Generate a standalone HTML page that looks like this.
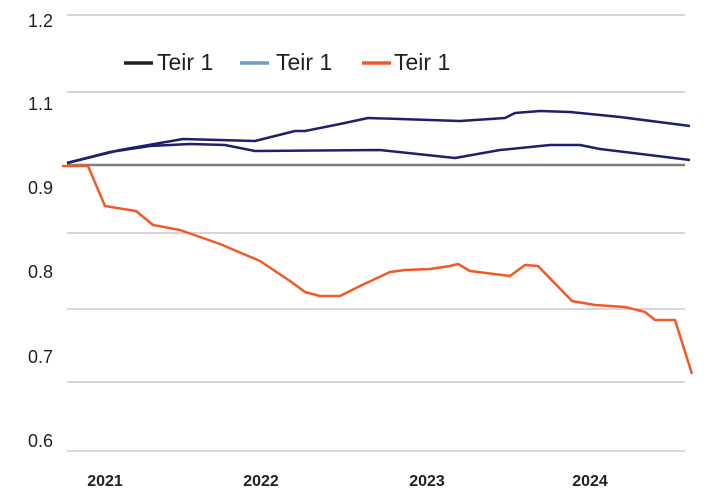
<!DOCTYPE html>
<html><head><style>body{margin:0;background:#fff}svg{display:block}</style></head><body>
<svg width="722" height="492" viewBox="0 0 722 492" font-family="Liberation Sans, sans-serif">
<g stroke="#bdbdbd" stroke-width="1.2">
<line x1="67" y1="15" x2="685" y2="15"/><line x1="67" y1="92" x2="685" y2="92"/>
<line x1="67" y1="233" x2="685" y2="233"/><line x1="67" y1="309" x2="685" y2="309"/>
<line x1="67" y1="382" x2="685" y2="382"/><line x1="67" y1="451" x2="685" y2="451"/>
</g>
<line x1="67" y1="165" x2="685" y2="165" stroke="#7f7f7f" stroke-width="2.5"/>
<g fill="#231f20" font-size="18" text-anchor="end">
<text x="53" y="27">1.2</text><text x="53" y="110">1.1</text><text x="53" y="194">0.9</text>
<text x="53" y="278">0.8</text><text x="53" y="363">0.7</text><text x="53" y="447">0.6</text>
</g>
<g fill="#231f20" font-size="16" font-weight="bold" text-anchor="middle">
<text x="105" y="486">2021</text><text x="261" y="486">2022</text><text x="427" y="486">2023</text><text x="590" y="486">2024</text>
</g>
<g font-size="23" fill="#231f20">
<line x1="124" y1="63" x2="153" y2="63" stroke="#231f20" stroke-width="3.5"/><text x="157" y="70">Teir 1</text>
<line x1="240" y1="63" x2="269" y2="63" stroke="#6f9ec4" stroke-width="3.5"/><text x="276" y="70">Teir 1</text>
<line x1="362" y1="63" x2="391" y2="63" stroke="#f05a28" stroke-width="3.5"/><text x="394" y="70">Teir 1</text>
</g>
<g fill="none" stroke-width="2.5" stroke-linejoin="round">
<polyline stroke="#1f1f6b" points="67,163 120,150 183,139 255,141 295,131 305,131 340,124 368,118 460,121 505,118 515,113 540,111 570,112 620,117 690,126"/>
<polyline stroke="#1f1f6b" points="67,163 110,152 150,146 190,144 225,145 240,148 255,151 380,150 455,158 500,150 550,145 580,145 600,149 690,160"/>
<polyline stroke="#f05a28" points="62,166 88,166 105,206 136,211 153,225 180,230 220,244 260,261 290,281 305,292 320,296 340,296 360,286 390,272 405,270 430,269 450,266 458,264 470,271 510,276 525,265 538,266 572,301 595,305 625,307 645,312 655,320 675,320 692,374"/>
</g>
</svg>
</body></html>
